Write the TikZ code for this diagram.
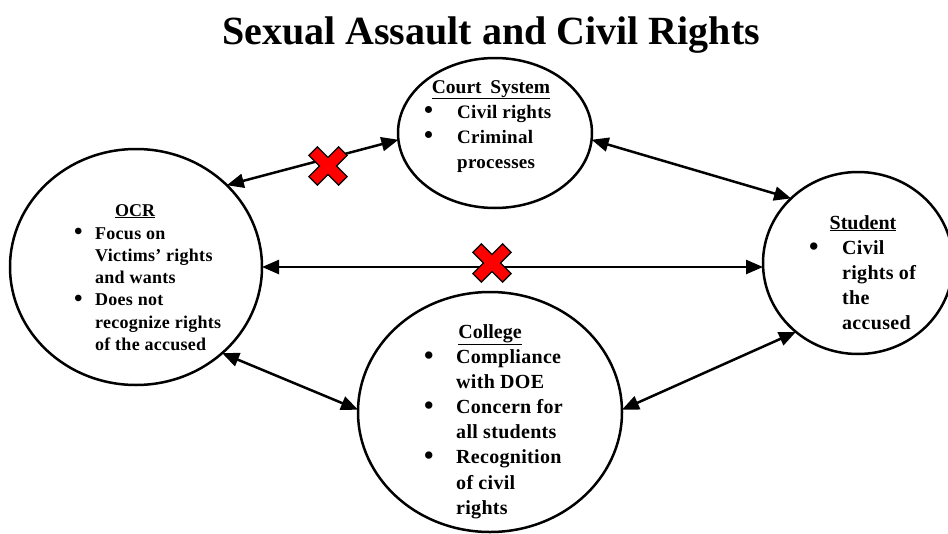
\documentclass[tikz,border=0pt]{standalone}
\usepackage{fontspec}
\setmainfont{Liberation Serif}
\usetikzlibrary{arrows.meta,shapes.geometric}
\newcommand\bul{\raisebox{-0.05em}{\scalebox{1.35}{•}}}
\begin{document}
\begin{tikzpicture}[x=1pt,y=-1pt,
  circ/.style={ellipse,draw,line width=2.5pt,inner sep=0pt,outer sep=0pt},
  link/.style={line width=2.5pt,{Triangle[length=17pt,width=14pt]}-{Triangle[length=17pt,width=14pt]}},
  head/.style={font=\bfseries\fontsize{#1}{22}\selectfont,anchor=base,inner sep=0pt},
  head/.default=19,
  blist/.style n args={2}{anchor=base west,inner sep=0pt,font=\bfseries\fontsize{#1}{#2}\selectfont\addfontfeatures{LetterSpace=1.5}},
  redx/.pic={\filldraw[fill=red,draw=black,line width=1.2pt,rotate=45]
     (21,-6)--(21,6)--(6,6)--(6,21)--(-6,21)--(-6,6)--(-21,6)--(-21,-6)--(-6,-6)--(-6,-21)--(6,-21)--(6,-6)--cycle;}
]
\useasboundingbox (0,0) rectangle (948,533);

% title
\node[anchor=base,inner sep=0pt,font=\bfseries\fontsize{40}{48}\selectfont] (title) at (491,44) {Sexual Assault and Civil Rights};

% circles
\node[circ,minimum width=252pt,minimum height=236pt] (ocr) at (136,267) {};
\node[circ,minimum width=194pt,minimum height=150pt] (court) at (495,133) {};
\node[circ,minimum width=264pt,minimum height=240pt] (college) at (490,412) {};
\node[circ,minimum width=190pt,minimum height=182pt] (student) at (858,263) {};

% OCR text
\node[head=18] (ocrh) at (135,216) {\underline{OCR}};
\node[blist={18}{22.3}] (ocrl) at (74,239) {\begin{tabular}[t]{@{}p{21pt}@{}l@{}}
\bul& Focus on\\
 & Victims’ rights\\
 & and wants\\
\bul& Does not\\
 & recognize rights\\
 & of the accused
\end{tabular}};

% Court text
\node[head=19.5] (courth) at (491,93) {\underline{Court\hspace{0.45em}System}};
\node[blist={19}{25}] (courtl) at (424,118) {\begin{tabular}[t]{@{}p{33pt}@{}l@{}}
\bul& Civil rights\\
\bul& Criminal\\
 & processes
\end{tabular}};

% College text
\node[head=20] (collegeh) at (490,338) {\underline{College}};
\node[blist={20}{25.2}] (collegel) at (424,363) {\begin{tabular}[t]{@{}p{32pt}@{}l@{}}
\bul& Compliance\\
 & with DOE\\
\bul& Concern for\\
 & all students\\
\bul& Recognition\\
 & of civil\\
 & rights
\end{tabular}};

% Student text
\node[head=20] (studenth) at (863,229) {\underline{Student}};
\node[blist={20}{25}] (studentl) at (809,254) {\begin{tabular}[t]{@{}p{33pt}@{}l@{}}
\bul& Civil\\
 & rights of\\
 & the\\
 & accused
\end{tabular}};

% connectors
\draw[link] (ocr.42.3) -- (court.184);
\draw[link] (court.356) -- (student.136);
\draw[link] (ocr.east) -- (ocr.east -| student.west);
\draw[link] (ocr.315.7) -- (college.179);
\draw[link] (college.1) -- (student.228);

% red crosses
\coordinate (x1) at (328,166);
\coordinate (x2) at (492,263);
\pic at (x1) {redx};
\pic at (x2) {redx};
\end{tikzpicture}
\end{document}
